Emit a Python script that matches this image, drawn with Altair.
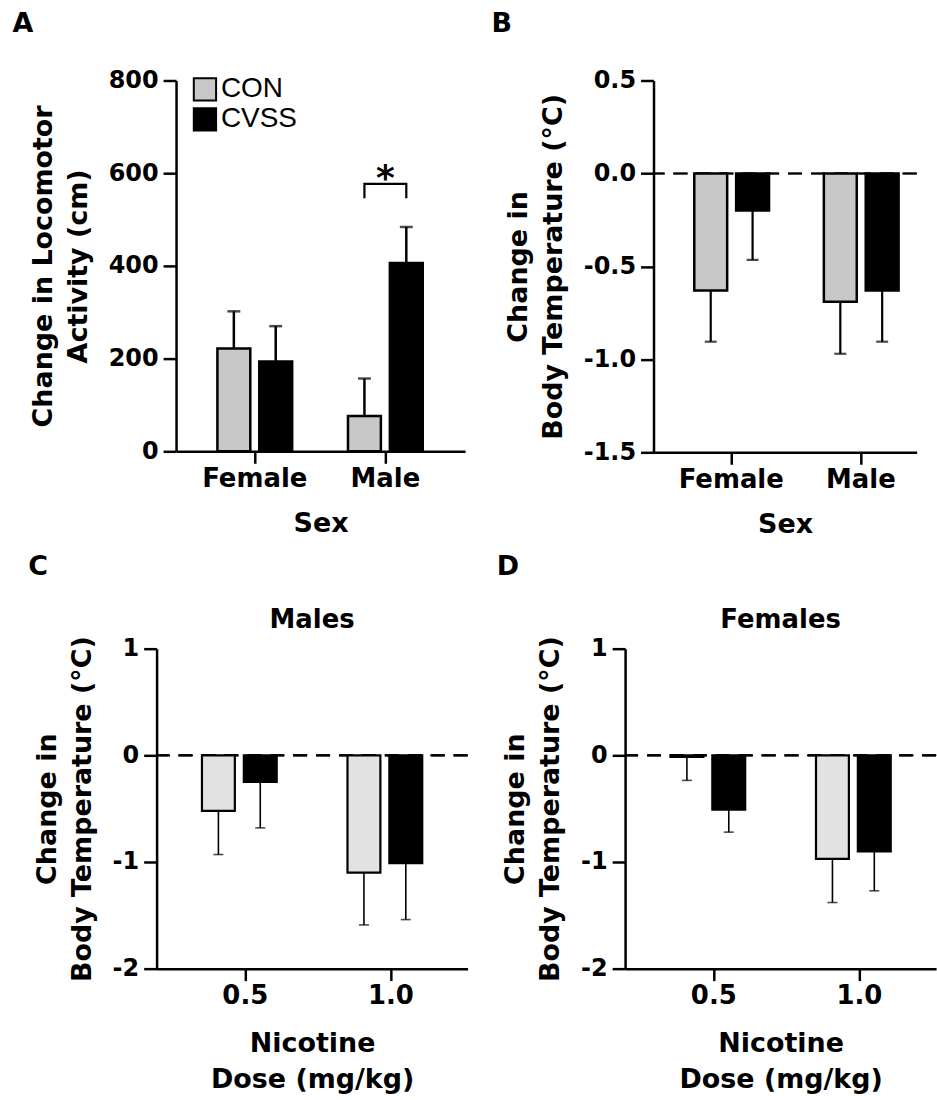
import altair as alt
import pandas as pd

# ---------------- data ----------------
groups = ["CON", "CVSS"]
sexes = ["Female", "Male"]
doses = ["0.5", "1.0"]

# Panel A: change in locomotor activity (cm)
a_mean_con = [222, 76]
a_mean_cvss = [194, 406]
a_err_con = [80, 81]
a_err_cvss = [76, 78]
a_bracket_low = 546
a_bracket_high = 577
a_star_y = 588

# Panel B: change in body temperature (°C) by sex
b_mean_con = [-0.63, -0.69]
b_mean_cvss = [-0.20, -0.63]
b_err_con = [0.275, 0.28]
b_err_cvss = [0.265, 0.275]

# Panel C: males, by nicotine dose
c_mean_con = [-0.52, -1.10]
c_mean_cvss = [-0.25, -1.01]
c_err_con = [0.41, 0.49]
c_err_cvss = [0.43, 0.53]

# Panel D: females, by nicotine dose
d_mean_con = [-0.015, -0.97]
d_mean_cvss = [-0.51, -0.90]
d_err_con = [0.22, 0.41]
d_err_cvss = [0.21, 0.37]

FONT = "DejaVu Sans"
HYPHEN_EXPR = "replace(datum.label, '\u2212', '-')"
IND = dict(color="independent", x="independent", y="independent")


def make_df(cats, mean_con, mean_cvss, err_con, err_cvss):
    rows = []
    for i, c in enumerate(cats):
        for g, m, e in (("CON", mean_con[i], err_con[i]), ("CVSS", mean_cvss[i], err_cvss[i])):
            sign = 1 if m >= 0 else -1
            rows.append({"cat": c, "group": g, "mean": m, "end": m + sign * e})
    return pd.DataFrame(rows)


def band_params(width, step, bar, gap, first):
    pi = 0.2
    po = (width / step - (2 - pi)) / 2
    bw = (1 - pi) * step
    spare = width - step * (2 - pi)
    align = min(1.0, max(0.0, (first - bw / 2) / spare)) if spare > 0 else 0.5
    s2 = bar + gap
    pi2 = 1 - bar / s2
    po2 = (bw / s2 - (2 - pi2)) / 2
    return pi, po, align, pi2, po2


def lettered(ch, letter, dx, offset):
    return alt.vconcat(ch, title=alt.TitleParams(
        letter, anchor="start", frame="bounds", font=FONT, fontWeight="bold",
        fontSize=27, color="black", dx=dx, offset=offset)).resolve_scale(**IND)


def panel(df, cats, width, height, step, first, bar, gap, y_domain, y_ticks, y_fmt,
          y_title, x_title, con_color, bar_sw, err_sw, cap, x_title_pad,
          legend=None, dashed=True, extra=None):
    pi, po, align, pi2, po2 = band_params(width, step, bar, gap, first)
    x = alt.X("cat:N", sort=cats,
              scale=alt.Scale(paddingInner=pi, paddingOuter=po, align=align),
              axis=alt.Axis(title=x_title, labelAngle=0, titleLineHeight=36,
                            titlePadding=x_title_pad, labelFontSize=26,
                            labelPadding=2))
    xo = alt.XOffset("group:N", sort=groups,
                     scale=alt.Scale(domain=groups, paddingInner=pi2, paddingOuter=po2))
    yscale = alt.Scale(domain=y_domain, nice=False, zero=False)
    yaxis = alt.Axis(values=y_ticks, format=y_fmt, title=y_title, labelExpr=HYPHEN_EXPR,
                     titleLineHeight=35, titlePadding=16, labelPadding=5, tickSize=13)
    color = alt.Color("group:N", sort=groups,
                      scale=alt.Scale(domain=groups, range=[con_color, "black"]),
                      legend=legend)
    base = alt.Chart(df)
    bars = base.mark_bar(stroke="black", strokeWidth=bar_sw).encode(
        x=x, xOffset=xo, y=alt.Y("mean:Q", scale=yscale, axis=yaxis),
        y2=alt.datum(0), color=color)
    err = base.mark_rule(color="black", strokeWidth=err_sw).encode(
        x=x, xOffset=xo, y=alt.Y("mean:Q"), y2="end:Q")
    caps = base.mark_tick(orient="horizontal", size=cap, thickness=err_sw,
                          color="black").encode(x=x, xOffset=xo, y=alt.Y("end:Q"))
    layers = []
    if dashed:
        zero = alt.Chart(df).mark_rule(color="black", strokeWidth=1.6,
                                       strokeDash=[14, 9]).encode(y=alt.datum(0))
        layers.append(zero)
    layers += [err, caps, bars]
    if extra is not None:
        layers += extra(x, xo)
    return alt.layer(*layers).properties(width=width, height=height)


# ---- Panel A ----
df_a = make_df(sexes, a_mean_con, a_mean_cvss, a_err_con, a_err_cvss)
bracket_df = pd.DataFrame({
    "cat": ["Male"] * 4,
    "group": ["CON", "CON", "CVSS", "CVSS"],
    "y": [a_bracket_low, a_bracket_high, a_bracket_high, a_bracket_low],
    "k": [0, 1, 2, 3],
})
star_df = pd.DataFrame({"cat": ["Male"], "y": [a_star_y], "t": ["*"]})


def a_extra(x, xo):
    br = alt.Chart(bracket_df).mark_line(color="black", strokeWidth=2.2).encode(
        x=x, xOffset=xo, y=alt.Y("y:Q"), order="k:Q")
    st = alt.Chart(star_df).mark_text(font=FONT, fontWeight="bold", fontSize=36,
                                      color="black", baseline="middle").encode(
        x=x, y=alt.Y("y:Q"), text="t:N")
    return [br, st]


legend_a = alt.Legend(title=None, orient="none", legendX=15, legendY=-5,
                      symbolType="square", symbolSize=500, symbolStrokeColor="black",
                      symbolStrokeWidth=2, symbolOpacity=1, labelFont="Liberation Sans",
                      labelFontSize=28, labelFontWeight="normal", labelColor="black",
                      labelOffset=2, rowPadding=-6, padding=0)

chart_a = lettered(panel(df_a, sexes, 290, 372, 131, 79, 33, 9, [0, 800],
                         [0, 200, 400, 600, 800], "d",
                         ["Change in Locomotor", "Activity (cm)"], "Sex", "#c8c8c8",
                         2.5, 2.5, 13, 19, legend=legend_a, dashed=False, extra=a_extra),
                   "A", -17, 31)

# ---- Panel B ----
df_b = make_df(sexes, b_mean_con, b_mean_cvss, b_err_con, b_err_cvss)
chart_b = lettered(panel(df_b, sexes, 264, 373, 130, 78, 33, 8, [-1.5, 0.5],
                         [-1.5, -1.0, -0.5, 0.0, 0.5], ".1f",
                         ["Change in", "Body Temperature (°C)"], "Sex", "#c8c8c8",
                         2.5, 2.2, 12, 19),
                   "B", -13, 31)


def sub_title(text):
    return alt.TitleParams(text, anchor="middle", font=FONT, fontWeight="bold",
                           fontSize=26, color="black", offset=3)


# ---- Panel C ----
df_c = make_df(doses, c_mean_con, c_mean_cvss, c_err_con, c_err_cvss)
chart_c = lettered(panel(df_c, doses, 312, 321, 146, 89, 39, 8, [-2, 1], [-2, -1, 0, 1], "d",
                         ["Change in", "Body Temperature (°C)"],
                         ["Nicotine", "Dose (mg/kg)"], "#e2e2e2", 2.2, 1.6, 10, 22
                         ).properties(title=sub_title("Males")),
                   "C", -5, 26)

# ---- Panel D ----
df_d = make_df(doses, d_mean_con, d_mean_cvss, d_err_con, d_err_cvss)
chart_d = lettered(panel(df_d, doses, 312, 321, 146, 89, 39, 8, [-2, 1], [-2, -1, 0, 1], "d",
                         ["Change in", "Body Temperature (°C)"],
                         ["Nicotine", "Dose (mg/kg)"], "#e2e2e2", 2.2, 1.6, 10, 22
                         ).properties(title=sub_title("Females")),
                   "D", -5, 26)

row1 = alt.hconcat(chart_a, chart_b, spacing=26).resolve_scale(**IND)
row2 = alt.hconcat(chart_c, chart_d, spacing=28).resolve_scale(**IND)

chart = alt.vconcat(row1, row2, spacing=15, center=True).resolve_scale(**IND).properties(
    padding={"left": 12, "top": 8, "right": 0, "bottom": 0}
).configure_view(stroke=None).configure_axis(
    labelFont=FONT, labelFontWeight="bold", labelFontSize=24, labelColor="black",
    titleFont=FONT, titleFontWeight="bold", titleFontSize=27, titleColor="black",
    domainColor="black", domainWidth=2.5, tickColor="black", tickWidth=2.5,
    tickSize=12, labelPadding=3, grid=False
)

chart.save("out.html", embed_options={"renderer": "svg", "actions": False})
